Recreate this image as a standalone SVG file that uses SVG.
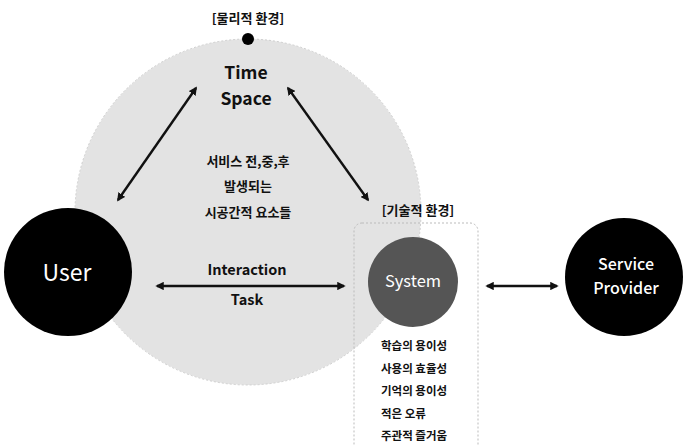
<svg xmlns="http://www.w3.org/2000/svg" width="686" height="445" viewBox="0 0 686 445">
<style>
text{font-family:"Noto Sans CJK KR","Noto Sans",sans-serif;text-anchor:middle;fill:#111}
.b{font-weight:bold}
.w{fill:#fff}
.lbl{font-size:13px;font-weight:bold}
.ko{font-size:13px;font-weight:bold}
.li{font-size:11.5px;font-weight:bold;text-anchor:start}
.line{stroke:#111;stroke-width:2.4;fill:none}
</style>
<defs>
<marker id="ah" viewBox="0 0 10 10" refX="8" refY="5" markerWidth="3.5" markerHeight="3.5" orient="auto-start-reverse">
<path d="M0,0 L10,5 L0,10 z" fill="#111"/>
</marker>
</defs>
<rect width="686" height="445" fill="#fff"/>
<g id="environment">
<circle cx="248" cy="212" r="173" fill="#e3e3e3" stroke="#cfcfcf" stroke-width="1" stroke-dasharray="2,2"/>
<circle cx="248" cy="39" r="6" fill="#000"/>
<text class="lbl" x="248" y="23">[물리적 환경]</text>
<text class="b" x="246" y="79" style="font-size:17.5px">Time</text>
<text class="b" x="246" y="105" style="font-size:17.5px">Space</text>
<text class="ko" x="248" y="166">서비스 전,중,후</text>
<text class="ko" x="248" y="191">발생되는</text>
<text class="ko" x="248" y="217">시공간적 요소들</text>
</g>
<g id="tech-env">
<rect x="354" y="223" width="124" height="230" rx="8" fill="none" stroke="#bbb" stroke-width="1" stroke-dasharray="2,2"/>
<text class="lbl" x="418" y="215">[기술적 환경]</text>
<text class="li" x="381" y="350">학습의 용이성</text>
<text class="li" x="381" y="373">사용의 효율성</text>
<text class="li" x="381" y="395">기억의 용이성</text>
<text class="li" x="381" y="418">적은 오류</text>
<text class="li" x="381" y="440">주관적 즐거움</text>
</g>
<g id="user">
<circle cx="68" cy="272" r="64" fill="#000"/>
<text class="w" x="67" y="281" style="font-size:23px">User</text>
</g>
<g id="system">
<circle cx="413" cy="282" r="45" fill="#555"/>
<text class="w" x="413" y="287" style="font-size:16.5px">System</text>
</g>
<g id="service-provider">
<circle cx="624" cy="277" r="59" fill="#000"/>
<text class="w" x="626" y="270" style="font-size:16px;font-weight:500">Service</text>
<text class="w" x="626" y="294" style="font-size:16px;font-weight:500">Provider</text>
</g>
<g id="connectors">
<line class="line" x1="118" y1="200" x2="196" y2="88" marker-start="url(#ah)" marker-end="url(#ah)"/>
<line class="line" x1="288" y1="88" x2="368" y2="200" marker-start="url(#ah)" marker-end="url(#ah)"/>
<line class="line" x1="157" y1="286" x2="344" y2="286" marker-start="url(#ah)" marker-end="url(#ah)"/>
<line class="line" x1="487" y1="286" x2="557" y2="286" marker-start="url(#ah)" marker-end="url(#ah)"/>
<text class="b" x="247" y="275" style="font-size:14.5px">Interaction</text>
<text class="b" x="247" y="305" style="font-size:14.5px">Task</text>
</g>
</svg>
